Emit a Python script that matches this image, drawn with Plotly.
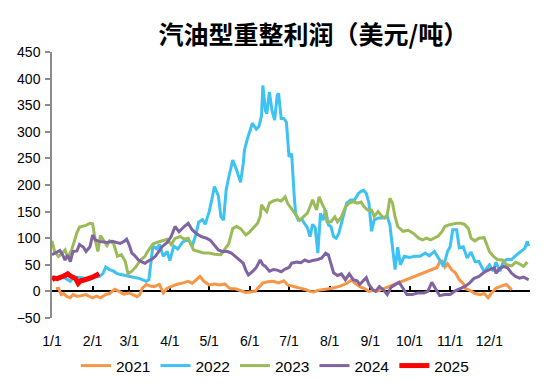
import plotly.graph_objects as go

# x = day of year (0 = 1/1)
month_days = [0, 31, 59, 90, 120, 151, 181, 212, 243, 273, 304, 334]
month_labels = ["1/1", "2/1", "3/1", "4/1", "5/1", "6/1", "7/1", "8/1", "9/1", "10/1", "11/1", "12/1"]

days_2021 = [3, 5, 7, 9, 11, 14, 16, 19, 22, 26, 29, 31, 34, 37, 41, 44, 48, 52, 55, 59, 62, 65, 67, 69, 72, 75, 78, 82, 85, 88, 91, 95, 100, 104, 107, 110, 113, 116, 120, 124, 128, 132, 136, 140, 145, 148, 151, 155, 158, 161, 165, 169, 173, 177, 180, 183, 187, 191, 194, 197, 200, 203, 207, 210, 214, 220, 225, 229, 231, 235, 239, 242, 246, 248, 294, 296, 298, 300, 302, 305, 308, 311, 314, 316, 319, 323, 327, 330, 333, 336, 339, 343, 347, 349, 351]
vals_2021 = [5, 6, -6, -4, -9, -12, -6, -9, -8, -6, -10, -12, -9, -12, -6, -4, 4, -2, -5, -3, -6, -10, -6, 6, 13, 10, 9, 13, -3, 6, 9, 13, 16, 19, 15, 22, 28, 19, 12, 14, 12, 14, 5, 5, 0, -2, -1, 0, 8, 16, 18, 19, 16, 20, 12, 10, 8, 6, 3, 0, -1, 2, 3, 5, 6, 10, 15, 22, 16, 9, 5, 0, 2, 0, 45, 55, 57, 46, 52, 41, 35, 22, 15, 5, 2, -4, -6, -4, -12, -2, 6, 10, 13, 8, 3]

days_2022 = [0, 3, 6, 10, 14, 17, 22, 26, 29, 33, 36, 39, 41, 44, 47, 50, 54, 58, 62, 67, 72, 74, 77, 80, 82, 85, 88, 90, 93, 96, 100, 104, 107, 110, 112, 115, 117, 120, 122, 124, 127, 129, 131, 133, 135, 138, 141, 144, 146, 147, 149, 151, 153, 156, 158, 160, 161, 163, 164, 166, 168, 170, 172, 173, 175, 177, 179, 181, 183, 185, 186, 188, 191, 193, 195, 197, 199, 201, 203, 205, 207, 209, 211, 213, 215, 217, 219, 221, 223, 225, 228, 231, 234, 236, 238, 240, 242, 244, 246, 249, 253, 256, 258, 260, 262, 264, 266, 269, 273, 277, 281, 285, 288, 292, 296, 299, 302, 304, 306, 309, 311, 314, 317, 320, 323, 326, 330, 334, 337, 339, 342, 344, 347, 351, 355, 358, 361, 363, 364]
vals_2022 = [28, 25, 28, 25, 19, 27, 26, 24, 23, 27, 28, 34, 46, 41, 38, 33, 31, 28, 27, 24, 19, 22, 85, 80, 88, 66, 75, 58, 85, 80, 93, 98, 85, 108, 130, 135, 126, 150, 172, 197, 180, 140, 134, 191, 215, 247, 228, 205, 240, 266, 285, 303, 316, 305, 310, 330, 387, 340, 334, 375, 340, 322, 369, 372, 325, 325, 318, 253, 259, 178, 147, 134, 135, 127, 120, 103, 126, 120, 72, 147, 134, 153, 125, 122, 103, 100, 109, 128, 150, 166, 172, 172, 184, 188, 190, 184, 166, 113, 134, 138, 138, 141, 125, 84, 41, 83, 50, 66, 64, 66, 66, 72, 67, 75, 59, 47, 75, 84, 116, 116, 82, 84, 63, 74, 56, 56, 37, 50, 38, 55, 38, 52, 60, 60, 69, 75, 81, 94, 85]

days_2023 = [0, 2, 5, 7, 10, 12, 15, 17, 19, 21, 24, 26, 29, 31, 33, 35, 37, 39, 42, 44, 47, 50, 53, 56, 58, 61, 64, 68, 71, 73, 77, 80, 84, 88, 91, 94, 98, 101, 104, 108, 112, 116, 120, 124, 129, 132, 135, 138, 141, 144, 148, 151, 154, 157, 159, 160, 162, 164, 166, 169, 172, 175, 178, 180, 183, 186, 189, 192, 195, 197, 199, 202, 204, 206, 208, 210, 213, 216, 218, 221, 224, 227, 230, 233, 236, 238, 241, 244, 246, 249, 252, 254, 256, 258, 260, 262, 264, 268, 272, 276, 280, 283, 286, 289, 292, 295, 298, 300, 303, 306, 309, 312, 315, 318, 320, 323, 326, 330, 334, 337, 340, 344, 347, 351, 354, 357, 360, 363]
vals_2023 = [95, 75, 66, 70, 78, 63, 78, 94, 110, 121, 123, 124, 128, 127, 97, 75, 105, 98, 86, 95, 90, 66, 69, 56, 33, 38, 46, 60, 66, 75, 89, 92, 95, 98, 88, 100, 103, 98, 100, 78, 75, 72, 72, 70, 69, 80, 90, 118, 122, 118, 106, 112, 120, 128, 141, 163, 155, 150, 166, 170, 172, 170, 178, 165, 155, 145, 134, 140, 147, 159, 172, 153, 178, 166, 156, 131, 131, 140, 131, 140, 158, 166, 169, 166, 168, 160, 153, 153, 141, 150, 141, 138, 144, 175, 166, 140, 122, 113, 115, 109, 100, 97, 100, 97, 101, 104, 113, 122, 125, 127, 128, 128, 126, 118, 100, 95, 100, 101, 75, 66, 60, 59, 50, 48, 55, 52, 47, 55]

days_2024 = [0, 2, 6, 8, 10, 12, 14, 16, 19, 21, 24, 26, 29, 31, 33, 36, 39, 42, 46, 49, 52, 55, 57, 59, 61, 63, 66, 69, 71, 74, 76, 79, 82, 84, 88, 91, 94, 97, 101, 104, 107, 110, 114, 118, 121, 124, 127, 130, 134, 137, 141, 144, 146, 148, 150, 153, 156, 159, 161, 163, 166, 169, 172, 175, 178, 181, 183, 187, 190, 193, 196, 199, 203, 206, 209, 211, 213, 215, 218, 221, 224, 227, 230, 233, 235, 238, 240, 242, 245, 247, 250, 253, 256, 259, 262, 265, 268, 271, 275, 279, 284, 287, 290, 293, 296, 300, 304, 308, 311, 315, 319, 322, 326, 330, 334, 338, 339, 342, 345, 348, 351, 354, 357, 360, 363, 364]
vals_2024 = [69, 72, 77, 69, 59, 68, 56, 75, 76, 88, 83, 75, 84, 106, 97, 94, 93, 92, 94, 92, 90, 94, 98, 87, 72, 68, 59, 55, 53, 58, 60, 66, 78, 84, 92, 103, 122, 112, 122, 128, 116, 109, 103, 100, 96, 88, 78, 75, 75, 72, 63, 57, 53, 40, 31, 37, 45, 59, 50, 47, 38, 41, 40, 37, 42, 45, 53, 55, 54, 59, 56, 58, 60, 63, 72, 69, 50, 35, 30, 33, 22, 33, 22, 20, 13, 22, 26, 13, 3, 0, 9, 3, -6, 8, 13, 17, 6, -6, -6, -3, -3, 0, 17, 5, -8, -6, -6, 1, 5, 9, 16, 24, 28, 36, 41, 44, 34, 43, 47, 44, 34, 28, 25, 27, 23, 22]

days_2025 = [0, 2, 4, 6, 8, 10, 12, 14, 16, 18, 20, 22, 24, 26, 28, 30, 32, 34, 36]
vals_2025 = [22, 25, 24, 27, 28, 30, 33, 29, 26, 24, 15, 20, 21, 22, 24, 26, 28, 30, 33]

series = [
    ("2021", days_2021, vals_2021, "#F79646", 3),
    ("2022", days_2022, vals_2022, "#3EC1F3", 3),
    ("2023", days_2023, vals_2023, "#9BBB59", 3),
    ("2024", days_2024, vals_2024, "#8064A2", 3),
    ("2025", days_2025, vals_2025, "#FF0000", 5),
]

fig = go.Figure()
for name, d, v, c, w in series:
    fig.add_trace(go.Scatter(x=d, y=v, name=name, mode="lines",
                             line=dict(color=c, width=w), xaxis="x", yaxis="y"))
# invisible trace to activate the zero-line axis
fig.add_trace(go.Scatter(x=[0], y=[0], mode="lines", showlegend=False,
                         hoverinfo="skip", line=dict(width=0), xaxis="x2", yaxis="y"))

num_font = dict(family="Liberation Sans, Arial, sans-serif", size=14, color="#000000")

fig.update_layout(
    width=550, height=390,
    margin=dict(l=52, r=20, t=52, b=72),
    paper_bgcolor="white", plot_bgcolor="white",
    title=dict(text="<b>汽油型重整利润（美元/吨）</b>",
               font=dict(family="Noto Sans CJK SC", size=25, color="#000000"),
               x=0.547, xanchor="center", xref="paper",
               y=1 - 35 / 390, yanchor="middle", yref="container", automargin=False),
    xaxis=dict(range=[0, 365], tickvals=month_days, ticktext=month_labels,
               showline=False, ticks="", showgrid=False, zeroline=False,
               tickfont=num_font, ticklabelstandoff=13, automargin=False),
    xaxis2=dict(range=[0, 365], overlaying="x", anchor="free", position=0.1,
                tickvals=month_days, showticklabels=False, showline=True,
                linecolor="#000000", linewidth=1.5, ticks="inside", ticklen=5,
                tickcolor="#000000", tickwidth=1.5, showgrid=False, zeroline=False,
                layer="below traces", automargin=False),
    yaxis=dict(range=[-50, 450], dtick=50, showline=True, linecolor="#8C8C8C",
               linewidth=1.5, ticks="outside", ticklen=5, tickcolor="#8C8C8C",
               tickwidth=1.5, showgrid=False, zeroline=False, tickfont=num_font,
               ticklabelstandoff=2, automargin=False),
    legend=dict(orientation="h", x=0.5, xanchor="center", xref="container",
                y=1 - 366 / 390, yanchor="middle", yref="container",
                font=dict(family="Liberation Sans, Arial, sans-serif", size=15.5, color="#000000"),
                itemwidth=30, tracegroupgap=0),
    showlegend=True,
)

fig.write_html("out.html", config={"displayModeBar": False},
               post_script="document.body.style.margin='0';")
